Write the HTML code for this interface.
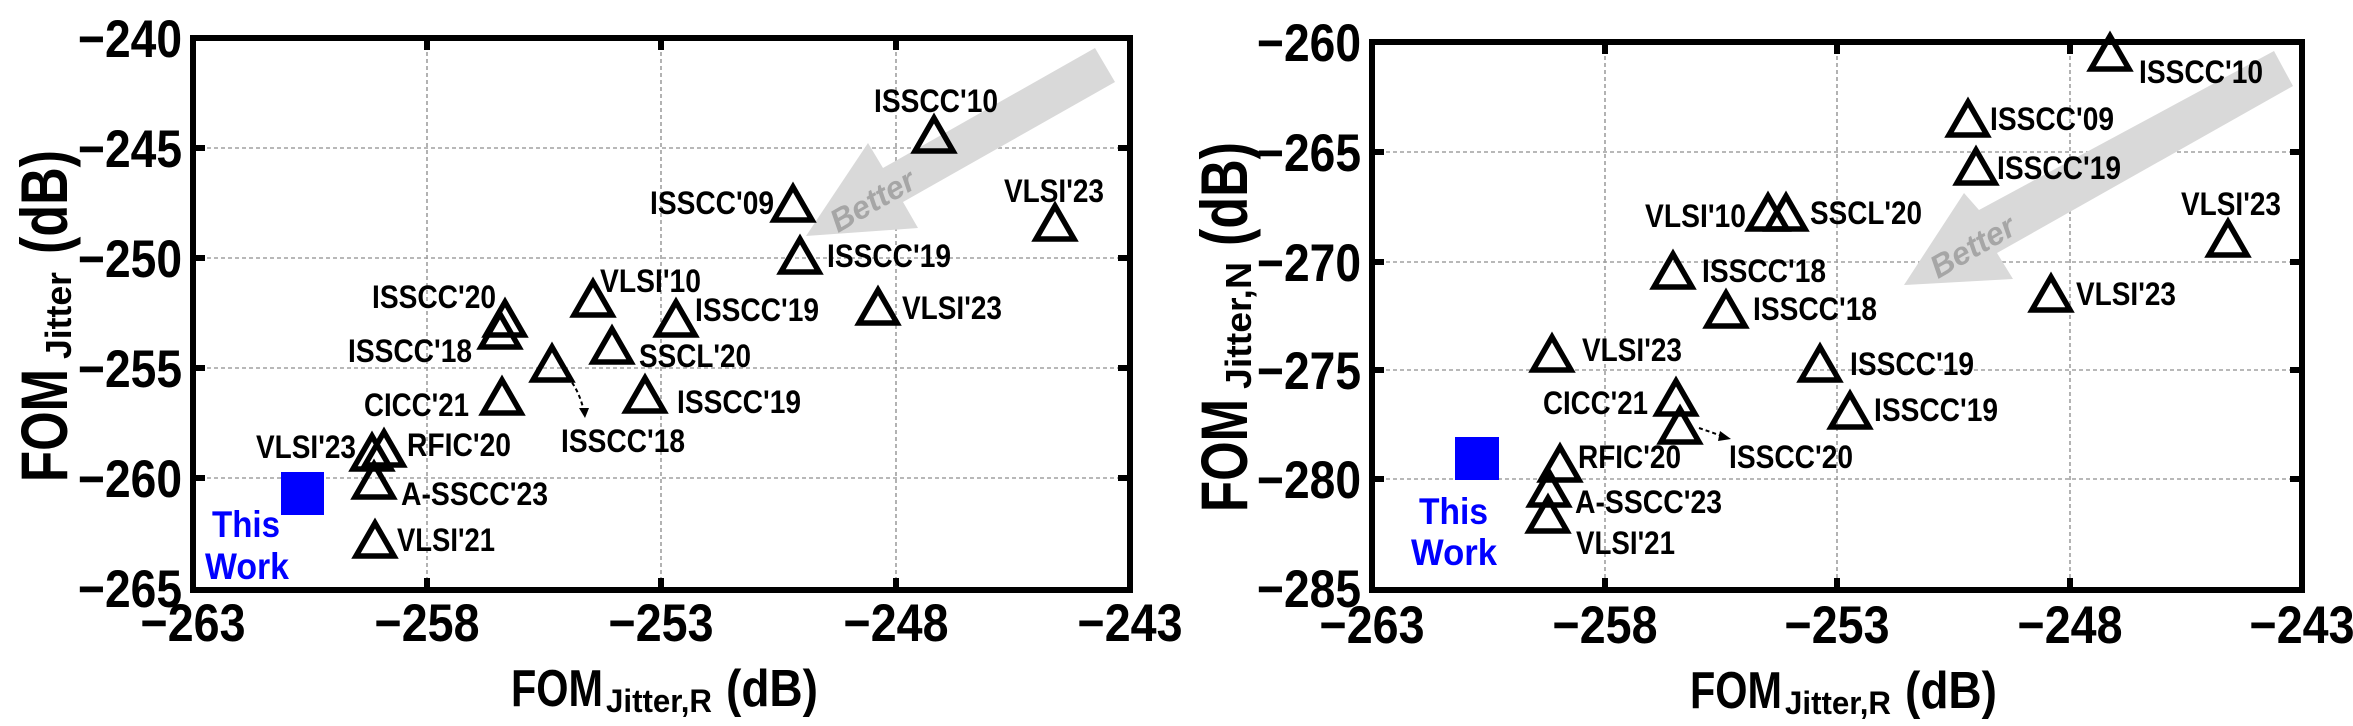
<!DOCTYPE html>
<html><head><meta charset="utf-8"><style>
html,body{margin:0;padding:0;background:#fff;}
svg{display:block;font-family:"Liberation Sans",Arial,sans-serif;font-weight:bold;}
</style></head><body>
<svg width="2353" height="726" viewBox="0 0 2353 726" xmlns="http://www.w3.org/2000/svg">
<defs>
<g id="tri"><polygon points="0,-18 19,15 -19,15" fill="none" stroke="#000" stroke-width="5.5" stroke-linejoin="miter"/></g>
</defs>

<!-- ================= LEFT PLOT ================= -->
<g>
<g stroke="#a0a0a0" stroke-width="1.6" stroke-dasharray="4,3">
<line x1="427" y1="38" x2="427" y2="590"/><line x1="661" y1="38" x2="661" y2="590"/><line x1="896" y1="38" x2="896" y2="590"/>
<line x1="193" y1="148" x2="1130" y2="148"/><line x1="193" y1="258" x2="1130" y2="258"/><line x1="193" y1="368" x2="1130" y2="368"/><line x1="193" y1="478" x2="1130" y2="478"/>
</g>
<polygon points="806,236 868,143 883,168 1095,48 1115,82 903,202 918,228" fill="#d9d9d9"/>
<text x="0" y="0" font-size="32" font-style="italic" fill="#a6a6a6" text-anchor="middle" transform="translate(878,210) rotate(-30)">Better</text>
<rect x="193" y="38" width="937" height="552" fill="none" stroke="#000" stroke-width="6"/>
<g stroke="#000" stroke-width="6">
<line x1="427" y1="590" x2="427" y2="578"/><line x1="661" y1="590" x2="661" y2="578"/><line x1="896" y1="590" x2="896" y2="578"/>
<line x1="427" y1="38" x2="427" y2="50"/><line x1="661" y1="38" x2="661" y2="50"/><line x1="896" y1="38" x2="896" y2="50"/>
<line x1="193" y1="148" x2="205" y2="148"/><line x1="193" y1="258" x2="205" y2="258"/><line x1="193" y1="368" x2="205" y2="368"/><line x1="193" y1="478" x2="205" y2="478"/>
<line x1="1130" y1="148" x2="1118" y2="148"/><line x1="1130" y1="258" x2="1118" y2="258"/><line x1="1130" y1="368" x2="1118" y2="368"/><line x1="1130" y1="478" x2="1118" y2="478"/>
</g>
<g font-size="53" text-anchor="end">
<text x="182" y="57" textLength="104" lengthAdjust="spacingAndGlyphs">−240</text>
<text x="182" y="167" textLength="104" lengthAdjust="spacingAndGlyphs">−245</text>
<text x="182" y="277" textLength="104" lengthAdjust="spacingAndGlyphs">−250</text>
<text x="182" y="387" textLength="104" lengthAdjust="spacingAndGlyphs">−255</text>
<text x="182" y="497" textLength="104" lengthAdjust="spacingAndGlyphs">−260</text>
<text x="182" y="607" textLength="104" lengthAdjust="spacingAndGlyphs">−265</text>
</g>
<g font-size="53" text-anchor="middle">
<text x="193" y="641" textLength="105" lengthAdjust="spacingAndGlyphs">−263</text>
<text x="427" y="641" textLength="105" lengthAdjust="spacingAndGlyphs">−258</text>
<text x="661" y="641" textLength="105" lengthAdjust="spacingAndGlyphs">−253</text>
<text x="896" y="641" textLength="105" lengthAdjust="spacingAndGlyphs">−248</text>
<text x="1130" y="641" textLength="105" lengthAdjust="spacingAndGlyphs">−243</text>
</g>
<text x="511" y="706" font-size="52" textLength="92" lengthAdjust="spacingAndGlyphs">FOM</text>
<text x="606" y="712" font-size="32" textLength="106" lengthAdjust="spacingAndGlyphs">Jitter,R</text>
<text x="726" y="706" font-size="52" textLength="92" lengthAdjust="spacingAndGlyphs">(dB)</text>
<g transform="translate(67,482) rotate(-90)">
<text x="0" y="0" font-size="66" textLength="113" lengthAdjust="spacingAndGlyphs">FOM</text>
<text x="123" y="4" font-size="36" textLength="87" lengthAdjust="spacingAndGlyphs">Jitter</text>
<text x="228" y="0" font-size="66" textLength="104" lengthAdjust="spacingAndGlyphs">(dB)</text>
</g>
<use href="#tri" x="934" y="136"/><use href="#tri" x="793" y="205"/><use href="#tri" x="1055" y="224"/>
<use href="#tri" x="800" y="257"/><use href="#tri" x="878" y="308"/><use href="#tri" x="593" y="300"/>
<use href="#tri" x="676" y="320"/><use href="#tri" x="505" y="320"/><use href="#tri" x="500" y="332"/>
<use href="#tri" x="612" y="347"/><use href="#tri" x="552" y="365"/><use href="#tri" x="502" y="398"/>
<use href="#tri" x="645" y="396"/><use href="#tri" x="372" y="454"/><use href="#tri" x="384" y="450"/>
<use href="#tri" x="374" y="482"/><use href="#tri" x="375" y="541"/>
<rect x="281" y="472" width="43" height="43" fill="#0000ff"/>
<path d="M568,377 Q580,392 584,412" fill="none" stroke="#000" stroke-width="2" stroke-dasharray="4,3"/>
<polygon points="579,408 589,408 585,418" fill="#000"/>
<g font-size="32">
<text x="874" y="112" textLength="124" lengthAdjust="spacingAndGlyphs">ISSCC'10</text>
<text x="650" y="214" textLength="124" lengthAdjust="spacingAndGlyphs">ISSCC'09</text>
<text x="1004" y="202" textLength="100" lengthAdjust="spacingAndGlyphs">VLSI'23</text>
<text x="827" y="267" textLength="124" lengthAdjust="spacingAndGlyphs">ISSCC'19</text>
<text x="902" y="319" textLength="100" lengthAdjust="spacingAndGlyphs">VLSI'23</text>
<text x="600" y="292" textLength="101" lengthAdjust="spacingAndGlyphs">VLSI'10</text>
<text x="695" y="321" textLength="124" lengthAdjust="spacingAndGlyphs">ISSCC'19</text>
<text x="372" y="308" textLength="124" lengthAdjust="spacingAndGlyphs">ISSCC'20</text>
<text x="348" y="362" textLength="124" lengthAdjust="spacingAndGlyphs">ISSCC'18</text>
<text x="639" y="367" textLength="112" lengthAdjust="spacingAndGlyphs">SSCL'20</text>
<text x="364" y="416" textLength="105" lengthAdjust="spacingAndGlyphs">CICC'21</text>
<text x="677" y="413" textLength="124" lengthAdjust="spacingAndGlyphs">ISSCC'19</text>
<text x="561" y="452" textLength="124" lengthAdjust="spacingAndGlyphs">ISSCC'18</text>
<text x="256" y="458" textLength="100" lengthAdjust="spacingAndGlyphs">VLSI'23</text>
<text x="407" y="456" textLength="104" lengthAdjust="spacingAndGlyphs">RFIC'20</text>
<text x="401" y="505" textLength="147" lengthAdjust="spacingAndGlyphs">A-SSCC'23</text>
<text x="397" y="551" textLength="98" lengthAdjust="spacingAndGlyphs">VLSI'21</text>
</g>
<g font-size="37" fill="#0000ff">
<text x="212" y="537" textLength="68" lengthAdjust="spacingAndGlyphs">This</text>
<text x="205" y="579" textLength="84" lengthAdjust="spacingAndGlyphs">Work</text>
</g>
</g>

<!-- ================= RIGHT PLOT ================= -->
<g>
<g stroke="#a0a0a0" stroke-width="1.6" stroke-dasharray="4,3">
<line x1="1605" y1="42" x2="1605" y2="590"/><line x1="1837" y1="42" x2="1837" y2="590"/><line x1="2070" y1="42" x2="2070" y2="590"/>
<line x1="1372" y1="152" x2="2302" y2="152"/><line x1="1372" y1="262" x2="2302" y2="262"/><line x1="1372" y1="370" x2="2302" y2="370"/><line x1="1372" y1="479" x2="2302" y2="479"/>
</g>
<polygon points="1904,285 1964,193 1979,210 2274,51 2293,86 1997,253 2013,279" fill="#d9d9d9"/>
<text x="0" y="0" font-size="32" font-style="italic" fill="#a6a6a6" text-anchor="middle" transform="translate(1978,256) rotate(-30)">Better</text>
<rect x="1372" y="42" width="930" height="548" fill="none" stroke="#000" stroke-width="6"/>
<g stroke="#000" stroke-width="6">
<line x1="1605" y1="590" x2="1605" y2="578"/><line x1="1837" y1="590" x2="1837" y2="578"/><line x1="2070" y1="590" x2="2070" y2="578"/>
<line x1="1605" y1="42" x2="1605" y2="54"/><line x1="1837" y1="42" x2="1837" y2="54"/><line x1="2070" y1="42" x2="2070" y2="54"/>
<line x1="1372" y1="152" x2="1384" y2="152"/><line x1="1372" y1="262" x2="1384" y2="262"/><line x1="1372" y1="370" x2="1384" y2="370"/><line x1="1372" y1="479" x2="1384" y2="479"/>
<line x1="2302" y1="152" x2="2290" y2="152"/><line x1="2302" y1="262" x2="2290" y2="262"/><line x1="2302" y1="370" x2="2290" y2="370"/><line x1="2302" y1="479" x2="2290" y2="479"/>
</g>
<g font-size="53" text-anchor="end">
<text x="1361" y="61" textLength="104" lengthAdjust="spacingAndGlyphs">−260</text>
<text x="1361" y="171" textLength="104" lengthAdjust="spacingAndGlyphs">−265</text>
<text x="1361" y="281" textLength="104" lengthAdjust="spacingAndGlyphs">−270</text>
<text x="1361" y="389" textLength="104" lengthAdjust="spacingAndGlyphs">−275</text>
<text x="1361" y="498" textLength="104" lengthAdjust="spacingAndGlyphs">−280</text>
<text x="1361" y="607" textLength="104" lengthAdjust="spacingAndGlyphs">−285</text>
</g>
<g font-size="53" text-anchor="middle">
<text x="1372" y="643" textLength="105" lengthAdjust="spacingAndGlyphs">−263</text>
<text x="1605" y="643" textLength="105" lengthAdjust="spacingAndGlyphs">−258</text>
<text x="1837" y="643" textLength="105" lengthAdjust="spacingAndGlyphs">−253</text>
<text x="2070" y="643" textLength="105" lengthAdjust="spacingAndGlyphs">−248</text>
<text x="2302" y="643" textLength="105" lengthAdjust="spacingAndGlyphs">−243</text>
</g>
<text x="1690" y="708" font-size="52" textLength="92" lengthAdjust="spacingAndGlyphs">FOM</text>
<text x="1785" y="714" font-size="32" textLength="106" lengthAdjust="spacingAndGlyphs">Jitter,R</text>
<text x="1905" y="708" font-size="52" textLength="92" lengthAdjust="spacingAndGlyphs">(dB)</text>
<g transform="translate(1247,512) rotate(-90)">
<text x="0" y="0" font-size="66" textLength="113" lengthAdjust="spacingAndGlyphs">FOM</text>
<text x="123" y="4" font-size="36" textLength="127" lengthAdjust="spacingAndGlyphs">Jitter,N</text>
<text x="266" y="0" font-size="66" textLength="104" lengthAdjust="spacingAndGlyphs">(dB)</text>
</g>
<use href="#tri" x="2110" y="54"/><use href="#tri" x="1968" y="120"/><use href="#tri" x="1976" y="168"/>
<use href="#tri" x="2228" y="240"/><use href="#tri" x="1768" y="214"/><use href="#tri" x="1786" y="214"/>
<use href="#tri" x="1673" y="272"/><use href="#tri" x="1726" y="311"/><use href="#tri" x="2051" y="295"/>
<use href="#tri" x="1552" y="355"/><use href="#tri" x="1820" y="365"/><use href="#tri" x="1850" y="412"/>
<use href="#tri" x="1676" y="399"/><use href="#tri" x="1680" y="427"/><use href="#tri" x="1560" y="465"/>
<use href="#tri" x="1549" y="490"/><use href="#tri" x="1548" y="516"/>
<rect x="1455" y="437" width="44" height="43" fill="#0000ff"/>
<path d="M1699,428 L1722,436" fill="none" stroke="#000" stroke-width="2" stroke-dasharray="4,3"/>
<polygon points="1720,431 1731,439 1718,441" fill="#000"/>
<g font-size="32">
<text x="2139" y="83" textLength="124" lengthAdjust="spacingAndGlyphs">ISSCC'10</text>
<text x="1990" y="130" textLength="124" lengthAdjust="spacingAndGlyphs">ISSCC'09</text>
<text x="1997" y="179" textLength="124" lengthAdjust="spacingAndGlyphs">ISSCC'19</text>
<text x="2181" y="215" textLength="100" lengthAdjust="spacingAndGlyphs">VLSI'23</text>
<text x="1645" y="227" textLength="101" lengthAdjust="spacingAndGlyphs">VLSI'10</text>
<text x="1810" y="224" textLength="112" lengthAdjust="spacingAndGlyphs">SSCL'20</text>
<text x="1702" y="282" textLength="124" lengthAdjust="spacingAndGlyphs">ISSCC'18</text>
<text x="1753" y="320" textLength="124" lengthAdjust="spacingAndGlyphs">ISSCC'18</text>
<text x="2076" y="305" textLength="100" lengthAdjust="spacingAndGlyphs">VLSI'23</text>
<text x="1582" y="361" textLength="100" lengthAdjust="spacingAndGlyphs">VLSI'23</text>
<text x="1850" y="375" textLength="124" lengthAdjust="spacingAndGlyphs">ISSCC'19</text>
<text x="1874" y="421" textLength="124" lengthAdjust="spacingAndGlyphs">ISSCC'19</text>
<text x="1543" y="414" textLength="105" lengthAdjust="spacingAndGlyphs">CICC'21</text>
<text x="1729" y="468" textLength="124" lengthAdjust="spacingAndGlyphs">ISSCC'20</text>
<text x="1578" y="468" textLength="103" lengthAdjust="spacingAndGlyphs">RFIC'20</text>
<text x="1575" y="513" textLength="147" lengthAdjust="spacingAndGlyphs">A-SSCC'23</text>
<text x="1576" y="554" textLength="99" lengthAdjust="spacingAndGlyphs">VLSI'21</text>
</g>
<g font-size="37" fill="#0000ff">
<text x="1419" y="524" textLength="69" lengthAdjust="spacingAndGlyphs">This</text>
<text x="1411" y="565" textLength="86" lengthAdjust="spacingAndGlyphs">Work</text>
</g>
</g>
</svg>
</body></html>
